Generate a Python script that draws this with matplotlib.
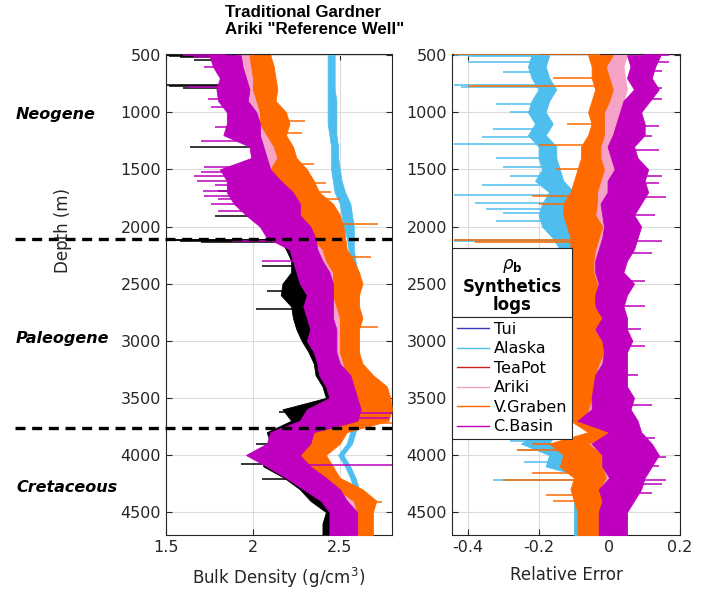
import numpy as np
import matplotlib
matplotlib.use('Agg')
import matplotlib.pyplot as plt
from matplotlib.lines import Line2D
from matplotlib.patches import Rectangle

plt.rcParams['font.family'] = ['DejaVu Sans']

# depth samples (m) for the band envelopes
depth = np.arange(500, 4701, 100)

# ---- left panel: bulk density (g/cm3), low / high edge of each noisy band
meas_lo = [1.80, 1.85, 1.88, 1.88, 1.92, 1.95, 1.95, 1.95, 2.00, 2.02, 1.90, 1.92, 1.95, 2.00, 2.05, 2.10, 2.15, 2.19, 2.22, 2.22, 2.17, 2.16,
           2.22, 2.23, 2.25, 2.28, 2.32, 2.35, 2.36, 2.40, 2.42, 2.17, 2.22, 2.08, 2.10, 2.05, 2.06, 2.18, 2.27, 2.33, 2.42, 2.40, 2.40]
meas_hi = [2.10, 2.08, 2.10, 2.12, 2.12, 2.12, 2.14, 2.14, 2.14, 2.16, 2.22, 2.26, 2.30, 2.34, 2.38, 2.42, 2.45, 2.40, 2.42, 2.44, 2.42, 2.42,
           2.44, 2.45, 2.46, 2.48, 2.48, 2.50, 2.54, 2.58, 2.60, 2.55, 2.58, 2.40, 2.36, 2.32, 2.36, 2.44, 2.50, 2.55, 2.58, 2.58, 2.58]

tui_rho = [2.00, 2.01, 2.03, 2.03, 2.04, 2.07, 2.07, 2.10, 2.13, 2.15, 2.14, 2.17, 2.21, 2.25, 2.28, 2.32, 2.36, 2.41, 2.43, 2.46, 2.47, 2.47,
           2.48, 2.49, 2.50, 2.50, 2.51, 2.52, 2.54, 2.55, 2.57, 2.59, 2.57, 2.29, 2.32, 2.25, 2.31, 2.37, 2.47, 2.55, 2.58, 2.58, 2.58]

alaska_lo = [2.43, 2.43, 2.43, 2.43, 2.43, 2.43, 2.43, 2.44, 2.45, 2.45, 2.45, 2.46, 2.47, 2.50, 2.51, 2.52, 2.54, 2.55, 2.56, 2.57, 2.57, 2.57,
             2.57, 2.57, 2.57, 2.57, 2.57, 2.57, 2.57, 2.57, 2.57, 2.57, 2.57, 2.56, 2.54, 2.49, 2.53, 2.56, 2.58, 2.59, 2.60, 2.60, 2.60]
alaska_hi = [2.47, 2.47, 2.47, 2.47, 2.48, 2.48, 2.48, 2.48, 2.49, 2.49, 2.50, 2.51, 2.53, 2.56, 2.57, 2.58, 2.58, 2.58, 2.59, 2.60, 2.60, 2.60,
             2.60, 2.60, 2.60, 2.60, 2.60, 2.60, 2.60, 2.60, 2.60, 2.60, 2.60, 2.59, 2.57, 2.52, 2.56, 2.59, 2.61, 2.62, 2.63, 2.63, 2.63]

teapot_lo = [1.99, 2.00, 2.02, 2.02, 2.03, 2.06, 2.06, 2.09, 2.12, 2.14, 2.13, 2.16, 2.20, 2.24, 2.27, 2.31, 2.35, 2.40, 2.42, 2.45, 2.46, 2.46,
             2.47, 2.48, 2.49, 2.49, 2.50, 2.51, 2.53, 2.54, 2.56, 2.58, 2.56, 2.28, 2.31, 2.24, 2.30, 2.36, 2.46, 2.54, 2.57, 2.57, 2.57]
teapot_hi = [2.04, 2.05, 2.06, 2.07, 2.07, 2.10, 2.11, 2.13, 2.16, 2.18, 2.18, 2.21, 2.25, 2.29, 2.32, 2.35, 2.39, 2.44, 2.47, 2.49, 2.50, 2.50,
             2.51, 2.52, 2.53, 2.53, 2.54, 2.55, 2.57, 2.58, 2.60, 2.62, 2.60, 2.32, 2.35, 2.28, 2.34, 2.40, 2.50, 2.58, 2.61, 2.61, 2.61]

ariki_lo = [1.91, 1.92, 1.94, 1.95, 1.95, 1.99, 2.00, 2.01, 2.04, 2.05, 2.06, 2.10, 2.15, 2.20, 2.23, 2.28, 2.32, 2.34, 2.37, 2.40, 2.42, 2.42,
            2.42, 2.43, 2.44, 2.44, 2.45, 2.47, 2.50, 2.52, 2.54, 2.56, 2.54, 2.25, 2.28, 2.20, 2.26, 2.34, 2.44, 2.50, 2.54, 2.54, 2.54]
ariki_hi = [2.00, 2.01, 2.03, 2.04, 2.05, 2.08, 2.08, 2.10, 2.14, 2.16, 2.14, 2.18, 2.23, 2.28, 2.30, 2.34, 2.38, 2.43, 2.45, 2.48, 2.49, 2.49,
            2.50, 2.52, 2.52, 2.52, 2.52, 2.54, 2.57, 2.58, 2.61, 2.63, 2.62, 2.32, 2.36, 2.28, 2.34, 2.40, 2.50, 2.58, 2.61, 2.61, 2.61]

graben_lo = [1.98, 1.99, 2.00, 2.00, 2.02, 2.04, 2.04, 2.08, 2.12, 2.14, 2.10, 2.14, 2.19, 2.23, 2.27, 2.30, 2.34, 2.40, 2.42, 2.46, 2.46, 2.46,
             2.48, 2.50, 2.50, 2.50, 2.50, 2.52, 2.54, 2.54, 2.58, 2.60, 2.58, 2.27, 2.33, 2.23, 2.31, 2.33, 2.48, 2.58, 2.60, 2.60, 2.60]
graben_hi = [2.10, 2.12, 2.13, 2.14, 2.13, 2.19, 2.21, 2.19, 2.23, 2.25, 2.31, 2.35, 2.38, 2.46, 2.50, 2.52, 2.53, 2.54, 2.58, 2.61, 2.63, 2.61,
             2.61, 2.63, 2.61, 2.61, 2.61, 2.63, 2.69, 2.77, 2.79, 2.80, 2.78, 2.54, 2.50, 2.42, 2.46, 2.50, 2.63, 2.71, 2.69, 2.69, 2.69]

basin_lo = [1.75, 1.77, 1.81, 1.79, 1.80, 1.85, 1.85, 1.83, 1.98, 1.99, 1.81, 1.85, 1.85, 1.89, 1.96, 2.04, 2.08, 2.21, 2.23, 2.25, 2.27, 2.31,
            2.29, 2.31, 2.33, 2.31, 2.35, 2.37, 2.38, 2.42, 2.44, 2.31, 2.27, 2.10, 2.08, 1.96, 2.08, 2.19, 2.29, 2.39, 2.44, 2.44, 2.44]
basin_hi = [1.93, 1.94, 1.96, 1.98, 1.97, 2.02, 2.04, 2.04, 2.06, 2.08, 2.10, 2.16, 2.23, 2.27, 2.27, 2.33, 2.36, 2.37, 2.40, 2.44, 2.46, 2.46,
            2.46, 2.46, 2.48, 2.48, 2.48, 2.50, 2.56, 2.58, 2.60, 2.62, 2.60, 2.35, 2.33, 2.27, 2.33, 2.42, 2.50, 2.54, 2.60, 2.60, 2.60]

# ---- right panel: relative error, low / high edge of each band
alaska_err_lo = [-0.22, -0.23, -0.22, -0.20, -0.22, -0.23, -0.21, -0.23, -0.20, -0.20, -0.19, -0.21, -0.17, -0.19, -0.20, -0.19, -0.16,
                 -0.14, -0.14, -0.14, -0.14, -0.14, -0.14, -0.14, -0.14, -0.14, -0.14, -0.14, -0.14, -0.14, -0.14, -0.14, -0.15, -0.20,
                 -0.25, -0.17, -0.18, -0.06, -0.10, -0.10, -0.10, -0.10, -0.10]
alaska_err_hi = [-0.17, -0.18, -0.17, -0.15, -0.17, -0.18, -0.16, -0.18, -0.15, -0.15, -0.14, -0.13, -0.10, -0.08, -0.12, -0.12, -0.10,
                 -0.10, -0.10, -0.10, -0.10, -0.10, -0.10, -0.10, -0.10, -0.10, -0.10, -0.10, -0.10, -0.10, -0.10, -0.10, -0.11, -0.15,
                 -0.17, -0.09, -0.10, -0.02, -0.06, -0.06, -0.06, -0.06, -0.06]

tui_err = [-0.02, -0.03, -0.02, -0.02, -0.02, -0.04, -0.03, -0.04, -0.05, -0.05, -0.05, -0.06, -0.07, -0.08, -0.08, -0.07, -0.07, -0.07,
           -0.08, -0.08, -0.07, -0.07, -0.08, -0.06, -0.08, -0.06, -0.06, -0.07, -0.07, -0.07, -0.08, -0.08, -0.09, -0.02, -0.11,
           -0.07, -0.08, -0.05, -0.07, -0.06, -0.05, -0.06, -0.06]

teapot_err_lo = [-0.03, -0.03, -0.03, -0.02, -0.03, -0.04, -0.04, -0.04, -0.05, -0.05, -0.05, -0.06, -0.07, -0.08, -0.08, -0.07, -0.07,
                 -0.07, -0.08, -0.08, -0.07, -0.07, -0.08, -0.06, -0.08, -0.06, -0.06, -0.07, -0.07, -0.07, -0.08, -0.08, -0.09,
                 -0.02, -0.11, -0.07, -0.08, -0.05, -0.07, -0.06, -0.05, -0.06, -0.06]
teapot_err_hi = [0.01, 0.00, 0.01, 0.01, 0.01, -0.01, -0.01, -0.01, -0.02, -0.02, -0.01, -0.02, -0.03, -0.03, -0.04, -0.02, -0.03,
                 -0.03, -0.04, -0.04, -0.03, -0.03, -0.04, -0.02, -0.04, -0.02, -0.02, -0.03, -0.03, -0.03, -0.04, -0.04, -0.05,
                 0.01, -0.06, -0.02, -0.03, -0.01, -0.03, -0.02, -0.02, -0.03, -0.03]

ariki_err_lo = [0.00, -0.01, 0.00, 0.00, 0.00, -0.02, -0.02, -0.02, -0.03, -0.03, -0.02, -0.03, -0.04, -0.04, -0.04, -0.03, -0.03, -0.04,
                -0.05, -0.05, -0.04, -0.04, -0.05, -0.03, -0.05, -0.03, -0.03, -0.04, -0.05, -0.05, -0.06, -0.06, -0.07, 0.00, -0.07,
                -0.03, -0.04, -0.02, -0.04, -0.03, -0.03, -0.04, -0.04]
ariki_err_hi = [0.05, 0.04, 0.045, 0.05, 0.04, 0.04, 0.03, 0.03, 0.01, 0.01, 0.03, 0.02, 0.02, 0.01, 0.00, 0.01, 0.00, -0.01, -0.02,
                -0.02, -0.01, -0.01, -0.02, 0.00, -0.02, 0.00, 0.00, -0.01, -0.02, -0.02, -0.03, -0.03, -0.04, 0.03, -0.02, 0.01,
                0.00, 0.02, 0.00, 0.00, 0.00, -0.01, -0.01]

graben_err_lo = [-0.06, -0.05, -0.05, -0.04, -0.05, -0.06, -0.05, -0.06, -0.08, -0.08, -0.09, -0.10, -0.11, -0.13, -0.13, -0.12, -0.11,
                 -0.11, -0.11, -0.11, -0.11, -0.11, -0.11, -0.11, -0.11, -0.105, -0.11, -0.11, -0.11, -0.11, -0.11, -0.11, -0.11,
                 -0.06, -0.17, -0.13, -0.14, -0.10, -0.11, -0.10, -0.09, -0.09, -0.09]
graben_err_hi = [0.01, -0.01, 0.00, 0.01, 0.00, -0.015, -0.015, -0.015, -0.025, -0.025, -0.015, -0.025, -0.035, -0.035, -0.04, -0.02,
                 -0.03, -0.04, -0.045, -0.045, -0.035, -0.035, -0.045, -0.015, -0.045, -0.02, -0.015, -0.03, -0.04, -0.04, -0.05,
                 -0.06, -0.07, 0.02, -0.06, -0.02, -0.02, -0.01, -0.03, -0.02, -0.02, -0.03, -0.03]

basin_err_lo = [0.05, 0.06, 0.05, 0.07, 0.04, 0.03, 0.02, 0.01, -0.005, 0.005, 0.015, -0.005, -0.005, -0.025, -0.02, -0.015, -0.02,
                -0.03, -0.04, -0.04, -0.03, -0.04, -0.04, -0.02, -0.04, -0.02, -0.015, -0.02, -0.04, -0.045, -0.05, -0.05, -0.09,
                0.00, -0.05, -0.02, -0.02, 0.00, -0.03, -0.02, -0.03, -0.03, -0.03]
basin_err_hi = [0.145, 0.13, 0.12, 0.14, 0.115, 0.09, 0.10, 0.10, 0.07, 0.08, 0.11, 0.10, 0.11, 0.09, 0.07, 0.09, 0.08, 0.07, 0.05,
                0.04, 0.07, 0.05, 0.04, 0.05, 0.05, 0.065, 0.05, 0.05, 0.05, 0.05, 0.07, 0.06, 0.08, 0.09, 0.12, 0.14, 0.12, 0.10,
                0.09, 0.07, 0.05, 0.05, 0.05]

# isolated spikes: (depth, value reached)
meas_spikes = [(495, 1.50), (505, 1.52), (520, 1.58), (540, 1.66), (760, 1.50), (772, 1.52), (785, 1.60), (1300, 1.64),
               (1690, 1.80), (1905, 1.78), (2115, 1.50), (2122, 1.52), (2130, 1.58), (2138, 1.70), (2345, 2.05), (2560, 2.08),
               (2720, 2.02), (3620, 2.15), (3905, 2.02), (4080, 1.93), (4210, 2.05)]
basin_spikes = [(500, 1.60), (515, 1.66), (600, 1.72), (780, 1.62), (880, 1.74), (950, 1.76), (1130, 1.78), (1250, 1.70),
                (1480, 1.72), (1520, 1.70), (1560, 1.66), (1600, 1.68), (1640, 1.78), (1690, 1.71), (1730, 1.72),
                (1760, 1.80), (1800, 1.76), (1860, 1.80), (2125, 1.88), (2300, 2.05), (3630, 2.80), (3680, 2.78),
                (3990, 1.98), (4085, 2.80)]
graben_spikes = [(1080, 2.30), (1180, 2.28), (1450, 2.35), (1620, 2.42), (1700, 2.45), (1760, 2.50), (1980, 2.72),
                 (2270, 2.68), (2880, 2.72), (3580, 2.80), (3720, 2.80), (4410, 2.74)]
alaska_err_spikes = [(495, -0.44), (505, -0.40), (560, -0.40), (650, -0.30), (765, -0.44), (780, -0.42), (930, -0.32),
                     (1000, -0.28), (1150, -0.33), (1220, -0.36), (1280, -0.44), (1400, -0.32), (1480, -0.30),
                     (1560, -0.28), (1640, -0.36), (1720, -0.44), (1790, -0.38), (1850, -0.35), (1880, -0.30),
                     (1950, -0.32), (2115, -0.44), (2125, -0.44), (3880, -0.28), (3960, -0.26), (4060, -0.24),
                     (4220, -0.33)]
graben_err_spikes = [(490, -0.44), (700, -0.16), (770, -0.40), (1100, -0.12), (1290, -0.20), (1500, -0.15),
                     (1730, -0.22), (1800, -0.20), (2120, -0.44), (2135, -0.38), (3900, -0.22), (3960, -0.26),
                     (4160, -0.22), (4220, -0.30), (4350, -0.18), (4400, -0.16)]
basin_err_spikes = [(495, 0.17), (560, 0.17), (640, 0.15), (790, 0.15), (880, 0.15), (1120, 0.14), (1210, 0.12),
                    (1330, 0.14), (1560, 0.15), (1620, 0.14), (1740, 0.16), (1900, 0.13), (2130, 0.15), (2230, 0.12),
                    (2480, 0.10), (2700, 0.10), (2900, 0.09), (3050, 0.10), (3300, 0.08), (3560, 0.12), (3850, 0.13),
                    (4020, 0.16), (4100, 0.14), (4220, 0.16), (4250, 0.15), (4330, 0.12)]

# era boundaries (m)
boundaries = [2110, 3760]

names = ['Tui', 'Alaska', 'TeaPot', 'Ariki', 'V.Graben', 'C.Basin']
colors = {'Tui': '#3a3ab8', 'Alaska': '#4dbeee', 'TeaPot': '#cc1f1f', 'Ariki': '#f5a3c7',
          'V.Graben': '#ff6a00', 'C.Basin': '#bf00bf', 'meas': 'black'}

fig = plt.figure(figsize=(7.04, 5.93), dpi=100)
ax1 = fig.add_axes([166 / 704, 1 - 535 / 593, 226 / 704, 481 / 593])
ax2 = fig.add_axes([452 / 704, 1 - 535 / 593, 228 / 704, 481 / 593])


def band(ax, lo, hi, c, z):
    ax.fill_betweenx(depth, lo, hi, color=c, lw=0.6, zorder=z)


def spikes(ax, lo, hi, pts, c, z):
    mid = (np.array(lo) + np.array(hi)) / 2
    for d, v in pts:
        ax.plot([np.interp(d, depth, mid), v], [d, d], color=c, lw=1.1, zorder=z,
                solid_capstyle='butt')


# left panel
band(ax1, meas_lo, meas_hi, colors['meas'], 2)
spikes(ax1, meas_lo, meas_hi, meas_spikes, colors['meas'], 2)
ax1.plot(tui_rho, depth, color=colors['Tui'], lw=1, zorder=3)
band(ax1, alaska_lo, alaska_hi, colors['Alaska'], 4)
band(ax1, teapot_lo, teapot_hi, colors['TeaPot'], 5)
band(ax1, ariki_lo, ariki_hi, colors['Ariki'], 6)
band(ax1, graben_lo, graben_hi, colors['V.Graben'], 7)
spikes(ax1, graben_lo, graben_hi, graben_spikes, colors['V.Graben'], 7)
band(ax1, basin_lo, basin_hi, colors['C.Basin'], 8)
spikes(ax1, basin_lo, basin_hi, basin_spikes, colors['C.Basin'], 8)

# right panel
ax2.plot(tui_err, depth, color=colors['Tui'], lw=1, zorder=3)
band(ax2, alaska_err_lo, alaska_err_hi, colors['Alaska'], 4)
spikes(ax2, alaska_err_lo, alaska_err_hi, alaska_err_spikes, colors['Alaska'], 4)
band(ax2, teapot_err_lo, teapot_err_hi, colors['TeaPot'], 5)
band(ax2, ariki_err_lo, ariki_err_hi, colors['Ariki'], 6)
band(ax2, graben_err_lo, graben_err_hi, colors['V.Graben'], 7)
spikes(ax2, graben_err_lo, graben_err_hi, graben_err_spikes, colors['V.Graben'], 7)
band(ax2, basin_err_lo, basin_err_hi, colors['C.Basin'], 8)
spikes(ax2, basin_err_lo, basin_err_hi, basin_err_spikes, colors['C.Basin'], 8)

for ax in (ax1, ax2):
    ax.set_ylim(4700, 490)
    ax.set_yticks(np.arange(500, 4501, 500))
    ax.grid(True, color='#dcdcdc', lw=0.8, zorder=0)
    ax.set_axisbelow(True)
    ax.tick_params(direction='in', top=True, right=True, labelsize=11.5, colors='#262626', length=4)
    for s in ax.spines.values():
        s.set_color('#262626')
        s.set_linewidth(0.8)

ax1.set_xlim(1.5, 2.8)
ax1.set_xticks([1.5, 2, 2.5])
ax1.set_xticklabels(['1.5', '2', '2.5'])
ax2.set_xlim(-0.445, 0.2)
ax2.set_xticks([-0.4, -0.2, 0, 0.2])
ax2.set_xticklabels(['-0.4', '-0.2', '0', '0.2'])

ax1.set_xlabel('Bulk Density (g/cm$^3$)', fontsize=12, color='#262626', labelpad=8)
ax2.set_xlabel('Relative Error', fontsize=12, color='#262626', labelpad=8)
fig.text(63 / 704, 1 - 230 / 593, 'Depth (m)', rotation=90, ha='center', va='center',
         fontsize=12, color='#262626')

# era boundaries, extended into the left margin
for b in boundaries:
    ax1.plot([0.63, 2.8], [b, b], color='black', lw=2.4, ls=(0, (3, 2)), clip_on=False, zorder=20)

for lab, yp in [('Neogene', 115), ('Paleogene', 338), ('Cretaceous', 487)]:
    fig.text(16 / 704, 1 - yp / 593, lab, fontsize=11.5, fontweight='bold', fontstyle='italic',
             ha='left', va='center', color='black')

fig.text(225 / 704, 1 - 5 / 593, 'Traditional Gardner\nAriki "Reference Well"', fontsize=12.2,
         family=['Liberation Sans', 'DejaVu Sans'], fontweight='bold', ha='left', va='top',
         linespacing=1.2)

# legend with a separate title box on top (MATLAB style)
handles = [Line2D([], [], color=colors[n], lw=1) for n in names]
leg = ax2.legend(handles, names, loc='upper left', bbox_to_anchor=(0.0, 0.453), fontsize=11.5,
                 frameon=True, fancybox=False, edgecolor='#262626', framealpha=1, borderaxespad=0,
                 handlelength=2.0, handletextpad=0.3, labelspacing=0.28, borderpad=0.3)
leg.get_frame().set_linewidth(0.8)
leg.set_zorder(30)
fig.canvas.draw()
bb = leg.get_window_extent().transformed(ax2.transAxes.inverted())
ax2.add_patch(Rectangle((bb.x0, bb.y1), bb.width, 0.597 - bb.y1, transform=ax2.transAxes,
                        facecolor='white', edgecolor='#262626', lw=0.8, zorder=30, clip_on=False))
cx = bb.x0 + bb.width / 2
ax2.text(cx, 0.560, r'$\rho_\mathbf{b}$', transform=ax2.transAxes, ha='center', va='center',
         fontsize=12, zorder=31)
ax2.text(cx, 0.516, 'Synthetics', transform=ax2.transAxes, ha='center', va='center',
         fontsize=12, fontweight='bold', zorder=31)
ax2.text(cx, 0.478, 'logs', transform=ax2.transAxes, ha='center', va='center',
         fontsize=12, fontweight='bold', zorder=31)

fig.savefig('out.png', dpi=100)
